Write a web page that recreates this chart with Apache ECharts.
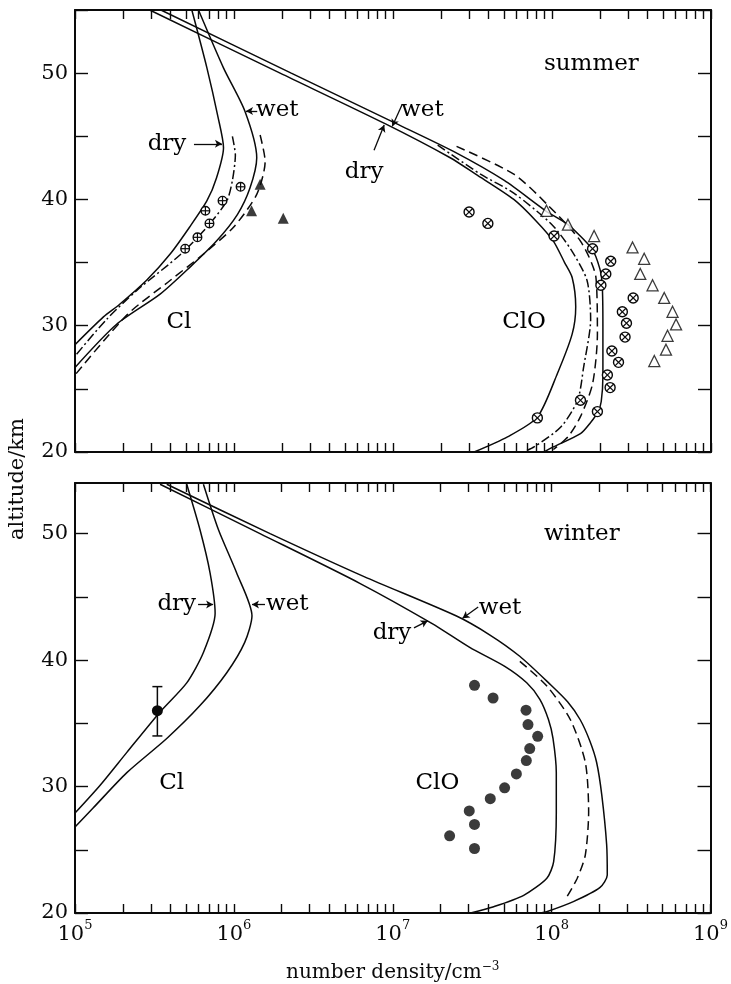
<!DOCTYPE html>
<html>
<head>
<meta charset="utf-8">
<script src="https://cdn.jsdelivr.net/npm/echarts@6/dist/echarts.min.js"></script>
<style>
  html, body { margin: 0; padding: 0; background: #fff; }
  #chart { width: 731px; height: 984px; }
</style>
</head>
<body>
<div id="chart"></div>
<script>
// Profiles are [number density (cm^-3), altitude (km)]

// ---------- summer ----------
const summerClDry = [[5.43e5,55],[6.76e5,50.4],[7.94e5,46.5],[8.59e5,44.1],[7.76e5,41.7],[6.76e5,39.9],[5.25e5,37.8],[3.98e5,35.7],[2.82e5,33.6],[1.91e5,31.7],[1.51e5,30.7],[1.0e5,28.5]];
const summerClWet = [[5.98e5,55],[8.6e5,50.4],[1.17e6,47],[1.39e6,43.3],[1.26e6,40.9],[1.05e6,38.8],[7.76e5,36.7],[5.25e5,34.6],[3.43e5,32.5],[1.82e5,30.1],[1.0e5,26.7]];
const summerClDashDot = [[9.77e5,45.0],[1.02e6,43.5],[9.77e5,41.5],[9.02e5,39.9],[6.76e5,37.8],[4.57e5,35.6],[2.45e5,32.8],[1.58e5,30.5],[1.0e5,27.6]];
const summerClDashed = [[1.46e6,45.1],[1.57e6,43.0],[1.39e6,40.4],[9.93e5,37.8],[6.46e5,35.7],[3.98e5,33.6],[2.14e5,30.9],[1.0e5,26.1]];
const summerClCircles = [[4.93e5,36.1],[5.89e5,37.0],[7.01e5,38.1],[6.61e5,39.1],[8.47e5,39.9],[1.10e6,41.0]];
const summerClTriangles = [[1.46e6,41.2],[1.29e6,39.1],[2.04e6,38.5]];

const summerClODry = [[2.95e5,55],[1.95e6,50],[8.91e6,46],[2.29e7,43.3],[3.31e7,42],[5.75e7,40],[7.94e7,38.3],[1.02e8,36.7],[1.20e8,35],[1.34e8,33.8],[1.41e8,31.5],[1.34e8,29.35],[1.08e8,26.2],[8.09e7,22.76],[5.25e7,21.2],[3.24e7,20]];
const summerClOWet = [[3.47e5,55],[2.29e6,50],[1.05e7,46],[2.40e7,43.8],[5.01e7,41.5],[9.12e7,39.1],[1.26e8,38],[1.78e8,36.1],[2.0e8,34.5],[2.07e8,33.2],[2.09e8,30],[2.09e8,26],[2.04e8,24],[1.95e8,23.2],[1.74e8,22.3],[1.51e8,21.45],[1.02e8,20.4],[8.91e7,20]];
const summerClODashDot = [[1.91e7,44.3],[3.55e7,42],[5.75e7,40.5],[1.0e8,38],[1.32e8,36],[1.66e8,33.6],[1.75e8,30.5],[1.58e8,26.7],[1.45e8,24.1],[1.14e8,22.0],[7.71e7,20.4],[6.61e7,20]];
const summerClODashed = [[2.51e7,44.2],[5.75e7,42.0],[9.33e7,39.6],[1.51e8,36.7],[1.89e8,33.8],[1.93e8,29.3],[1.80e8,25.4],[1.51e8,22.8],[1.26e8,21.2],[1.02e8,20.2]];
const summerClOCircles = [[3.01e7,39.0],[3.95e7,38.1],[1.03e8,37.1],[1.80e8,36.1],[2.34e8,35.1],[2.18e8,34.1],[2.03e8,33.2],[3.24e8,32.2],[2.77e8,31.1],[2.94e8,30.2],[2.88e8,29.1],[2.38e8,28.0],[2.62e8,27.1],[2.23e8,26.1],[2.32e8,25.1],[1.51e8,24.1],[1.93e8,23.2],[8.09e7,22.7]];
const summerClOTriangles = [[9.23e7,39.1],[1.26e8,38.0],[1.84e8,37.1],[3.21e8,36.2],[3.80e8,35.3],[3.59e8,34.1],[4.29e8,33.2],[5.08e8,32.2],[5.73e8,31.1],[6.03e8,30.1],[5.33e8,29.2],[5.21e8,28.1],[4.40e8,27.2]];

// ---------- winter ----------
const winterClDry = [[5.05e5,53.9],[6.12e5,50.3],[7.08e5,46.9],[7.62e5,43.7],[6.43e5,40.6],[5.05e5,38.2],[3.43e5,35.9],[2.12e5,32.7],[1.44e5,30.1],[1.0e5,27.9]];
const winterClWet = [[6.43e5,53.9],[8.0e5,50.3],[1.04e6,46.9],[1.30e6,43.5],[1.17e6,41.4],[9.02e5,39.0],[6.12e5,36.4],[3.78e5,33.8],[2.12e5,31.1],[1.30e5,28.3],[1.0e5,26.8]];
// measured Cl: [density, altitude, lower altitude, upper altitude]
const winterClMeasured = [[3.30e5,36.0,34.0,37.9]];

const winterClODry = [[3.43e5,53.9],[1.46e6,50],[6.2e6,46.07],[1.76e7,42.9],[3.05e7,41.0],[5.07e7,39.5],[6.97e7,38.2],[8.43e7,36.9],[9.55e7,35.3],[1.02e8,33.8],[1.07e8,31.1],[1.07e8,27.9],[1.03e8,24.06],[9.33e7,22.75],[6.67e7,21.4],[4.32e7,20.5],[3.09e7,20]];
const winterClOWet = [[3.78e5,53.9],[1.69e6,50],[6.6e6,46.6],[2.5e7,43.5],[4.07e7,42.0],[6.3e7,40.3],[9.75e7,38.1],[1.26e8,36.7],[1.51e8,35.3],[1.74e8,33.6],[1.92e8,31.9],[2.07e8,29.3],[2.22e8,25.4],[2.24e8,23.0],[2.01e8,22.0],[1.37e8,20.9],[9.3e7,20.1],[8.51e7,20]];
const winterClODashed = [[6.31e7,39.9],[9.33e7,37.95],[1.31e8,35.3],[1.63e8,31.9],[1.71e8,28.0],[1.63e8,24.6],[1.45e8,22.75],[1.25e8,21.3]];
const winterClODots = [[3.27e7,38.0],[4.28e7,37.0],[6.90e7,36.04],[7.10e7,34.9],[8.17e7,33.97],[7.28e7,33.0],[6.93e7,32.05],[6.0e7,31.0],[5.06e7,29.9],[4.11e7,29.04],[3.03e7,28.07],[3.27e7,27.0],[2.28e7,26.1],[3.27e7,25.1]];

// ---------- annotations ----------
const summerLabels = [
  { text: 'summer', at: [1.77e8, 50.7] },
  { text: 'Cl',     at: [4.5e5, 30.3] },
  { text: 'ClO',    at: [6.67e7, 30.3] },
  { text: 'wet',    at: [1.87e6, 47.1] },
  { text: 'dry',    at: [3.79e5, 44.4] },
  { text: 'wet',    at: [1.53e7, 47.1] },
  { text: 'dry',    at: [6.59e6, 42.2] }
];
const summerPointers = [
  { from: [5.6e5, 44.4],  to: [8.4e5, 44.4],  bend: 0 },
  { from: [1.4e6, 47.0],  to: [1.19e6, 47.0], bend: 0 },
  { from: [1.14e7, 47.5], to: [9.9e6, 45.8],  bend: 0.3 },
  { from: [7.6e6, 43.9],  to: [8.8e6, 45.9],  bend: -0.3 }
];
const winterLabels = [
  { text: 'winter', at: [1.55e8, 50.0] },
  { text: 'Cl',     at: [4.06e5, 30.3] },
  { text: 'ClO',    at: [1.91e7, 30.3] },
  { text: 'dry',    at: [4.37e5, 44.4] },
  { text: 'wet',    at: [2.17e6, 44.4] },
  { text: 'wet',    at: [4.73e7, 44.1] },
  { text: 'dry',    at: [9.89e6, 42.15] }
];
const winterPointers = [
  { from: [5.95e5, 44.4], to: [7.4e5, 44.4],  bend: 0 },
  { from: [1.57e6, 44.4], to: [1.3e6, 44.4],  bend: 0 },
  { from: [3.45e7, 44.2], to: [2.75e7, 43.3], bend: 0.3 },
  { from: [1.36e7, 42.55], to: [1.66e7, 43.1], bend: -0.3 }
];

// ---------- axis ticks ----------
const decades = [1e5, 1e6, 1e7, 1e8, 1e9];
const logTickValues = [];
decades.slice(0, 4).forEach(d => { for (let m = 1; m < 10; m++) logTickValues.push(m * d); });
logTickValues.push(1e9);
const altTickValues = [20, 25, 30, 35, 40, 45, 50, 55];
const altLabelValues = [20, 30, 40, 50];

const INK = '#0a0a0a';
const SERIF = '"DejaVu Serif", "Liberation Serif", serif';

function xAxisDef(gridIndex, position, withLabels) {
  return {
    type: 'log', logBase: 10, gridIndex, position, min: 1e5, max: 1e9,
    axisLine: { show: true, onZero: false, lineStyle: { color: INK, width: 2 } },
    axisTick: { show: true, inside: true, length: 9, customValues: logTickValues, lineStyle: { color: INK, width: 1.4 } },
    minorTick: { show: false },
    splitLine: { show: false },
    axisLabel: withLabels ? {
      show: true, margin: 6, customValues: decades,
      formatter: v => '{b|10}{s|' + Math.round(Math.log10(v)) + '}',
      rich: {
        b: { fontFamily: SERIF, fontSize: 21, color: INK },
        s: { fontFamily: SERIF, fontSize: 13, color: INK, padding: [0, 0, 18, 0] }
      }
    } : { show: false }
  };
}
function yAxisDef(gridIndex, position, max, withLabels) {
  return {
    type: 'value', gridIndex, position, min: 20, max,
    axisLine: { show: true, onZero: false, lineStyle: { color: INK, width: 2 } },
    axisTick: { show: true, inside: true, length: 13, customValues: altTickValues.filter(v => v <= max), lineStyle: { color: INK, width: 1.4 } },
    splitLine: { show: false },
    axisLabel: withLabels ? {
      show: true, margin: 7, customValues: altLabelValues,
      fontFamily: SERIF, fontSize: 21, color: INK
    } : { show: false }
  };
}

function profile(data, axes, dash) {
  return {
    type: 'line', data, xAxisIndex: axes[0], yAxisIndex: axes[1],
    showSymbol: false, smooth: 0.25, silent: true, z: 3,
    lineStyle: { color: INK, width: 1.5, type: dash || 'solid' }
  };
}

function markedCircle(kind, r) {
  return function (params, api) {
    const p = api.coord([api.value(0), api.value(1)]);
    const d = kind === 'x' ? r * 0.72 : r;
    const segs = kind === 'x'
      ? [[-d, -d, d, d], [-d, d, d, -d]]
      : [[-d, 0, d, 0], [0, -d, 0, d]];
    return {
      type: 'group',
      children: [{ type: 'circle', shape: { cx: p[0], cy: p[1], r }, style: { fill: '#fff', stroke: INK, lineWidth: 1.4 } }]
        .concat(segs.map(s => ({
          type: 'line',
          shape: { x1: p[0] + s[0], y1: p[1] + s[1], x2: p[0] + s[2], y2: p[1] + s[3] },
          style: { stroke: INK, lineWidth: 1.2 }
        })))
    };
  };
}

function errorBar(params, api) {
  const mid = api.coord([api.value(0), api.value(1)]);
  const lo = api.coord([api.value(0), api.value(2)]);
  const hi = api.coord([api.value(0), api.value(3)]);
  const w = 5;
  const st = { stroke: INK, lineWidth: 1.5 };
  return {
    type: 'group',
    children: [
      { type: 'line', shape: { x1: lo[0], y1: lo[1], x2: hi[0], y2: hi[1] }, style: st },
      { type: 'line', shape: { x1: lo[0] - w, y1: lo[1], x2: lo[0] + w, y2: lo[1] }, style: st },
      { type: 'line', shape: { x1: hi[0] - w, y1: hi[1], x2: hi[0] + w, y2: hi[1] }, style: st },
      { type: 'circle', shape: { cx: mid[0], cy: mid[1], r: 5.5 }, style: { fill: INK } }
    ]
  };
}

function annotations(labels, pointers, axes) {
  return {
    type: 'scatter', xAxisIndex: axes[0], yAxisIndex: axes[1], silent: true, z: 5,
    symbolSize: 0,
    data: labels.map(l => ({ value: l.at, name: l.text })),
    label: {
      show: true, position: 'inside', formatter: p => p.name,
      fontFamily: SERIF, fontSize: 23, color: '#000', textBorderWidth: 0, opacity: 1
    },
    markLine: {
      silent: true, animation: false,
      symbol: ['none', 'arrow'], symbolSize: [6, 7],
      label: { show: false },
      lineStyle: { color: INK, width: 1.3, type: 'solid', opacity: 1 },
      data: pointers.map(pt => [
        { coord: pt.from, lineStyle: { curveness: pt.bend } },
        { coord: pt.to }
      ])
    }
  };
}

const summerAxes = [0, 0];     // summer panel: bottom x axis, left y axis
const winterAxes = [2, 2];     // winter panel

const option = {
  animation: false,
  backgroundColor: '#fff',
  grid: [
    { left: 75, top: 10, width: 636, height: 442 },
    { left: 75, top: 483, width: 636, height: 432 }
  ],
  xAxis: [
    xAxisDef(0, 'bottom', false),
    xAxisDef(0, 'top', false),
    Object.assign(xAxisDef(1, 'bottom', true), {
      name: 'number density/cm{s|−3}', nameLocation: 'middle', nameGap: 48,
      nameTextStyle: {
        fontFamily: SERIF, fontSize: 20, color: INK,
        rich: { s: { fontFamily: SERIF, fontSize: 12, color: INK, padding: [0, 0, 12, 0] } }
      }
    }),
    xAxisDef(1, 'top', false)
  ],
  yAxis: [
    yAxisDef(0, 'left', 55, true),
    yAxisDef(0, 'right', 55, false),
    yAxisDef(1, 'left', 54, true),
    yAxisDef(1, 'right', 54, false)
  ],
  graphic: [{
    type: 'text', x: 18, y: 479, rotation: Math.PI / 2,
    style: { text: 'altitude/km', fontFamily: SERIF, fontSize: 21, fill: INK, align: 'center', verticalAlign: 'middle' }
  }],
  series: [
    // summer Cl
    profile(summerClDry, summerAxes),
    profile(summerClWet, summerAxes),
    profile(summerClDashDot, summerAxes, [9, 3, 2, 3]),
    profile(summerClDashed, summerAxes, [9, 5]),
    // summer ClO
    profile(summerClODry, summerAxes),
    profile(summerClOWet, summerAxes),
    profile(summerClODashDot, summerAxes, [9, 3, 2, 3]),
    profile(summerClODashed, summerAxes, [9, 5]),
    { type: 'custom', xAxisIndex: 0, yAxisIndex: 0, data: summerClCircles, renderItem: markedCircle('+', 4.3), z: 4, silent: true },
    { type: 'custom', xAxisIndex: 0, yAxisIndex: 0, data: summerClOCircles, renderItem: markedCircle('x', 5), z: 4, silent: true },
    { type: 'scatter', xAxisIndex: 0, yAxisIndex: 0, data: summerClTriangles, symbol: 'triangle', symbolSize: 11, itemStyle: { color: INK }, z: 4, silent: true },
    { type: 'scatter', xAxisIndex: 0, yAxisIndex: 0, data: summerClOTriangles, symbol: 'triangle', symbolSize: 11, itemStyle: { color: '#fff', borderColor: INK, borderWidth: 1.3 }, z: 4, silent: true },
    annotations(summerLabels, summerPointers, summerAxes),
    // winter Cl
    profile(winterClDry, winterAxes),
    profile(winterClWet, winterAxes),
    { type: 'custom', xAxisIndex: 2, yAxisIndex: 2, data: winterClMeasured, renderItem: errorBar, z: 4, silent: true },
    // winter ClO
    profile(winterClODry, winterAxes),
    profile(winterClOWet, winterAxes),
    profile(winterClODashed, winterAxes, [9, 5]),
    { type: 'scatter', xAxisIndex: 2, yAxisIndex: 2, data: winterClODots, symbol: 'circle', symbolSize: 11, itemStyle: { color: INK }, z: 4, silent: true },
    annotations(winterLabels, winterPointers, winterAxes)
  ]
};

const chart = echarts.init(document.getElementById('chart'), null, { renderer: 'canvas' });
chart.setOption(option);
</script>
</body>
</html>
